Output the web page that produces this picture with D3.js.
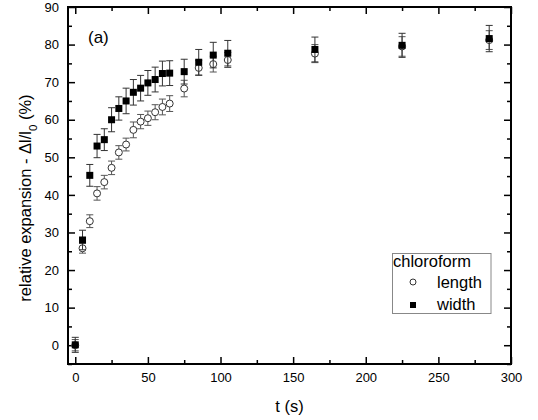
<!DOCTYPE html>
<html>
<head>
<meta charset="utf-8">
<script src="https://cdn.jsdelivr.net/npm/d3@7"></script>
<style>
  html, body { margin: 0; padding: 0; background: #fff; }
  svg { display: block; font-family: "Liberation Sans", Arial, sans-serif; }
</style>
</head>
<body>
<svg id="chart" width="538" height="420"></svg>
<script>
// ---- data ----
const times   = [0, 5, 10, 15, 20, 25, 30, 35, 40, 45, 50, 55, 60, 65, 75, 85, 95, 105, 165, 225, 285];
const lengthV = [0, 25.8, 33, 40.4, 43.4, 47.2, 51.3, 53.4, 57.3, 59.5, 60.4, 62, 63.4, 64.3, 68.3, 73.8, 74.8, 75.9, 77.6, 79.5, 81.2];
const lengthE = [1.5, 1.3, 1.7, 1.8, 1.8, 1.8, 1.8, 1.7, 2.1, 1.9, 1.9, 2.0, 2.1, 2.1, 2.2, 2.0, 2.1, 2.0, 2.4, 2.6, 2.5];
const widthV  = [0.1, 28, 45.2, 53, 54.7, 60, 63, 65, 67.3, 68.4, 69.8, 70.7, 72.3, 72.4, 72.8, 75.3, 77.2, 77.7, 78.7, 79.8, 81.6];
const widthE  = [2.0, 2.6, 2.9, 3.1, 2.9, 3.2, 3.1, 3.4, 3.4, 3.4, 3.3, 3.3, 3.3, 3.3, 3.3, 3.4, 3.4, 3.4, 3.3, 3.2, 3.5];
const xTicks = [0, 50, 100, 150, 200, 250, 300];
const xMinor = [25, 75, 125, 175, 225, 275];
const yTicks = [0, 10, 20, 30, 40, 50, 60, 70, 80, 90];
const yMinor = [-5, 5, 15, 25, 35, 45, 55, 65, 75, 85];
const legendTitle = "chloroform";
const seriesNames = ["length", "width"];

// ---- layout ----
const L = 68, R = 511, T = 7, B = 364;
const svg = d3.select("#chart");
const x = d3.scaleLinear().domain([-5, 300]).range([L, R]);
const y = d3.scaleLinear().domain([-5, 90]).range([B, T]);

function styleAxis(g) {
  g.select(".domain").remove();
  g.selectAll(".tick line").attr("stroke", "#000").attr("stroke-width", 1.5);
  g.selectAll(".tick text").attr("fill", "#000").style("font-size", "13px")
    .style("font-family", '"Liberation Sans", Arial, sans-serif');
}

// bottom
svg.append("g").attr("transform", `translate(0,${B})`)
  .call(d3.axisBottom(x).tickValues(xTicks).tickSize(-7).tickPadding(9).tickFormat(d3.format("d")))
  .call(styleAxis);
svg.append("g").attr("transform", `translate(0,${B})`)
  .call(d3.axisBottom(x).tickValues(xMinor).tickSize(-4).tickFormat(""))
  .call(styleAxis);
// top
svg.append("g").attr("transform", `translate(0,${T})`)
  .call(d3.axisTop(x).tickValues(xTicks).tickSize(-7).tickFormat(""))
  .call(styleAxis);
svg.append("g").attr("transform", `translate(0,${T})`)
  .call(d3.axisTop(x).tickValues(xMinor).tickSize(-4).tickFormat(""))
  .call(styleAxis);
// left
svg.append("g").attr("transform", `translate(${L},0)`)
  .call(d3.axisLeft(y).tickValues(yTicks).tickSize(-7).tickPadding(9).tickFormat(d3.format("d")))
  .call(styleAxis);
svg.append("g").attr("transform", `translate(${L},0)`)
  .call(d3.axisLeft(y).tickValues(yMinor).tickSize(-4).tickFormat(""))
  .call(styleAxis);
// right
svg.append("g").attr("transform", `translate(${R},0)`)
  .call(d3.axisRight(y).tickValues(yTicks).tickSize(-7).tickFormat(""))
  .call(styleAxis);
svg.append("g").attr("transform", `translate(${R},0)`)
  .call(d3.axisRight(y).tickValues(yMinor).tickSize(-4).tickFormat(""))
  .call(styleAxis);

// frame
svg.append("rect").attr("x", L).attr("y", T).attr("width", R - L).attr("height", B - T)
  .attr("fill", "none").attr("stroke", "#000").attr("stroke-width", 2);

// ---- series ----
function errorBars(vals, errs, color) {
  const g = svg.append("g").attr("stroke", color).attr("stroke-width", 1).attr("fill", "none");
  times.forEach((t, i) => {
    const cx = x(t), y1 = y(vals[i] - errs[i]), y2 = y(vals[i] + errs[i]);
    g.append("line").attr("x1", cx).attr("x2", cx).attr("y1", y1).attr("y2", y2);
    g.append("line").attr("x1", cx - 3.5).attr("x2", cx + 3.5).attr("y1", y1).attr("y2", y1);
    g.append("line").attr("x1", cx - 3.5).attr("x2", cx + 3.5).attr("y1", y2).attr("y2", y2);
  });
}

const lengthData = times.map((t, i) => ({ t, v: lengthV[i] }));
const widthData = times.map((t, i) => ({ t, v: widthV[i] }));

errorBars(lengthV, lengthE, "#555");
svg.append("g").selectAll("circle").data(lengthData).join("circle")
  .attr("cx", d => x(d.t)).attr("cy", d => y(d.v)).attr("r", 3.5)
  .attr("fill", "#fff").attr("stroke", "#333").attr("stroke-width", 1);

errorBars(widthV, widthE, "#333");
svg.append("g").selectAll("rect").data(widthData).join("rect")
  .attr("x", d => x(d.t) - 3.5).attr("y", d => y(d.v) - 3.5)
  .attr("width", 7).attr("height", 7).attr("fill", "#000");

// ---- labels ----
svg.append("text").attr("x", 88).attr("y", 43).style("font-size", "17px").text("(a)");

svg.append("text").attr("x", (L + R) / 2).attr("y", 412).attr("text-anchor", "middle")
  .style("font-size", "16.5px").text("t (s)");

const yt = svg.append("text").attr("transform", "translate(31,198) rotate(-90)")
  .attr("text-anchor", "middle").style("font-size", "16.5px");
yt.append("tspan").text("relative expansion - \u0394l/l");
yt.append("tspan").attr("baseline-shift", "sub").style("font-size", "11.5px").text("0");
yt.append("tspan").text(" (%)");

// ---- legend ----
const lg = svg.append("g");
lg.append("rect").attr("x", 392.5).attr("y", 253.5).attr("width", 98.5).attr("height", 60)
  .attr("fill", "#fff").attr("stroke", "#888").attr("stroke-width", 1);
lg.append("text").attr("x", 393).attr("y", 267).style("font-size", "16.5px").text(legendTitle);
lg.append("circle").attr("cx", 413).attr("cy", 282).attr("r", 3)
  .attr("fill", "#fff").attr("stroke", "#333").attr("stroke-width", 1);
lg.append("text").attr("x", 437).attr("y", 288).style("font-size", "16.5px").text(seriesNames[0]);
lg.append("rect").attr("x", 410).attr("y", 302).attr("width", 6).attr("height", 6).attr("fill", "#000");
lg.append("text").attr("x", 437).attr("y", 310).style("font-size", "16.5px").text(seriesNames[1]);
</script>
</body>
</html>
